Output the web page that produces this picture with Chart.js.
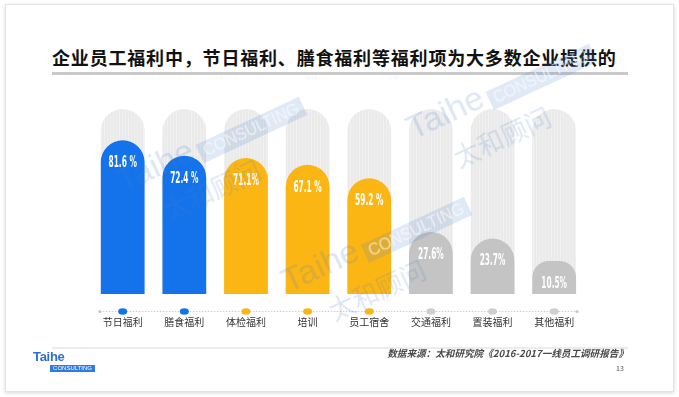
<!DOCTYPE html>
<html>
<head>
<meta charset="utf-8">
<script src="https://cdn.jsdelivr.net/npm/chart.js@4.4.0/dist/chart.umd.min.js"></script>
<style>
  html, body { margin: 0; padding: 0; width: 679px; height: 397px; overflow: hidden; background: #fff; font-family: "Noto Sans CJK SC", "Noto Sans", sans-serif; }
  #card { position: absolute; left: 5px; top: 4px; width: 667px; height: 386px; border: 1px solid #e3e3e3; box-shadow: 0 1px 4px rgba(0,0,0,.16); background: #fff; }
  #title { position: absolute; left: 52px; top: 44px; white-space: nowrap; font-size: 18px; letter-spacing: 0.82px; font-weight: bold; color: #111; }
  #title-rule { position: absolute; left: 52px; top: 72px; width: 576px; height: 3px; background: #c9c9c9; }
  #chart-box { position: absolute; left: 80px; top: 90px; width: 520px; height: 273px; }
  #foot-rule { position: absolute; left: 52px; top: 347px; width: 576px; height: 2px; background: #ececec; }
  #source { position: absolute; right: 51px; top: 346px; font-size: 9.6px; font-style: italic; font-weight: bold; color: #4a4a4a; white-space: nowrap; }
  #page { position: absolute; left: 616px; top: 363px; font-size: 7px; color: #555; }
  #logo1 { position: absolute; left: 33px; top: 349px; font-family: "Liberation Sans", Arial, sans-serif; font-size: 13px; font-weight: bold; color: #2f6fd0; letter-spacing: -0.3px; }
  #logo2 { position: absolute; left: 50px; top: 365px; width: 45px; height: 7px; background: #2f7be2; color: #fff; font-family: "Liberation Sans", Arial, sans-serif; font-size: 6px; line-height: 7px; text-align: center; }
  .wm { position: absolute; width: 300px; height: 100px; transform: rotate(-25deg); transform-origin: 0 0; color: rgba(74,124,200,.19); pointer-events: none; }
  .wm .en { position: absolute; left: 0; top: 0; font-family: "Liberation Sans", Arial, sans-serif; font-size: 34px; }
  .wm .band { position: absolute; left: 86px; top: 18px; height: 20px; padding: 0 5px; background: rgba(74,124,200,.17); color: rgba(255,255,255,.6); font-family: "Liberation Sans", Arial, sans-serif; font-size: 16px; line-height: 20px; }
  .wm .cn { position: absolute; left: 30px; top: 50px; font-size: 26px; line-height: 30px; }
</style>
</head>
<body>
<div id="card"></div>
<div id="title">企业员工福利中，节日福利、膳食福利等福利项为大多数企业提供的</div>
<div id="title-rule"></div>
<div id="chart-box"><canvas id="benefitChart" width="520" height="273"></canvas></div>

<div class="wm" style="left:110px;top:165px"><span class="en">Taihe</span><span class="band">CONSULTING</span><span class="cn">太和顾问</span></div>
<div class="wm" style="left:400px;top:112px"><span class="en">Taihe</span><span class="band">CONSULTING</span><span class="cn">太和顾问</span></div>
<div class="wm" style="left:275px;top:265px"><span class="en">Taihe</span><span class="band">CONSULTING</span><span class="cn">太和顾问</span></div>

<div id="foot-rule"></div>
<div id="logo1">Taihe</div>
<div id="logo2">CONSULTING</div>
<div id="source">数据来源：太和研究院《2016-2017一线员工调研报告》</div>
<div id="page">13</div>

<script>
const CATEGORIES = ['节日福利', '膳食福利', '体检福利', '培训', '员工宿舍', '交通福利', '置装福利', '其他福利'];
const VALUES = [81.6, 72.4, 71.1, 67.1, 59.2, 27.6, 23.7, 10.5];
const VALUE_LABELS = ['81.6 %', '72.4 %', '71.1%', '67.1 %', '59.2 %', '27.6%', '23.7%', '10.5%'];
const TRACK = [100, 100, 100, 100, 100, 100, 100, 100];

const BLUE = '#1473ea', YELLOW = '#fcb614', GREY = '#c4c4c4';
const BAR_COLORS = [BLUE, BLUE, YELLOW, YELLOW, YELLOW, GREY, GREY, GREY];
const DOT_COLORS = [BLUE, BLUE, YELLOW, YELLOW, YELLOW, '#cfcfcf', '#cfcfcf', '#cfcfcf'];
const Y_MIN = -9, Y_MAX = 100;

function stripePattern() {
    const c = document.createElement('canvas');
    c.width = 3; c.height = 4;
    const g = c.getContext('2d');
    g.fillStyle = '#eaeaea'; g.fillRect(0, 0, 3, 4);
    g.fillStyle = '#f0f0f0'; g.fillRect(0, 0, 1, 4);
    return g.createPattern(c, 'repeat');
}

// value text inside bars + dotted axis with dots under each category
const decorPlugin = {
    id: 'decor',
    afterDatasetsDraw(chart) {
        const ctx = chart.ctx;
        const meta = chart.getDatasetMeta(0);
        ctx.save();
        ctx.fillStyle = '#fff';
        ctx.textAlign = 'center';
        ctx.textBaseline = 'middle';
        ctx.font = 'bold 15px "DejaVu Sans Condensed", "DejaVu Sans", sans-serif';
        meta.data.forEach((bar, i) => {
            ctx.save();
            ctx.translate(bar.x, bar.y + 23);
            ctx.scale(0.55, 1);
            ctx.fillText(VALUE_LABELS[i], 0, 0);
            ctx.restore();
        });

        const area = chart.chartArea;
        const y = area.bottom + 17;
        const x0 = area.left + 8, x1 = area.right - 8;
        ctx.strokeStyle = '#cfcfcf';
        ctx.lineWidth = 1;
        ctx.setLineDash([1.5, 1.5]);
        ctx.beginPath(); ctx.moveTo(x0, y + 0.5); ctx.lineTo(x1, y + 0.5); ctx.stroke();
        ctx.setLineDash([]);
        ctx.fillStyle = '#c8c8c8';
        [x0, x1].forEach(x => { ctx.beginPath(); ctx.arc(x, y + 0.5, 1.6, 0, Math.PI * 2); ctx.fill(); });
        meta.data.forEach((bar, i) => {
            ctx.fillStyle = DOT_COLORS[i];
            ctx.beginPath();
            ctx.ellipse(bar.x, y + 0.5, 4.5, 3.3, 0, 0, Math.PI * 2);
            ctx.fill();
        });
        ctx.restore();
    }
};

new Chart(document.getElementById('benefitChart').getContext('2d'), {
    type: 'bar',
    data: {
        labels: CATEGORIES,
        datasets: [
            { data: VALUES, backgroundColor: BAR_COLORS, base: Y_MIN, grouped: false,
              borderRadius: { topLeft: 30, topRight: 30, bottomLeft: 0, bottomRight: 0 }, borderSkipped: 'start',
              categoryPercentage: 1, barPercentage: 0.71 },
            { data: TRACK, backgroundColor: stripePattern(), base: Y_MIN, grouped: false,
              borderRadius: { topLeft: 30, topRight: 30, bottomLeft: 0, bottomRight: 0 }, borderSkipped: 'start',
              categoryPercentage: 1, barPercentage: 0.71 }
        ]
    },
    options: {
        responsive: false,
        animation: false,
        layout: { padding: { left: 11, right: 15, top: 19, bottom: 13 } },
        plugins: { legend: { display: false }, tooltip: { enabled: false } },
        scales: {
            x: {
                grid: { display: false, drawTicks: false },
                border: { display: false },
                ticks: { color: '#333', padding: 22, font: { size: 10, family: '"Noto Sans CJK SC", sans-serif' } }
            },
            y: { display: false, min: Y_MIN, max: Y_MAX }
        }
    },
    plugins: [decorPlugin]
});
</script>
</body>
</html>
